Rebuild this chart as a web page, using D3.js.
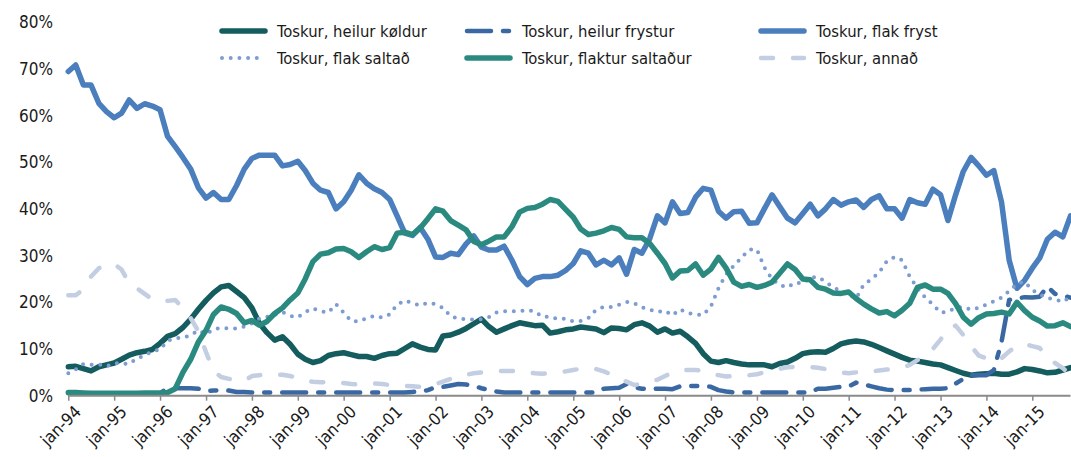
<!DOCTYPE html>
<html><head><meta charset="utf-8">
<script src="https://cdnjs.cloudflare.com/ajax/libs/d3/7.8.5/d3.min.js"></script>
<style>
html,body{margin:0;padding:0;background:#fff;}
svg{display:block;font-family:"DejaVu Sans Condensed","DejaVu Sans",sans-serif;}
</style></head>
<body>
<svg id="chart" width="1071" height="457"></svg>
<script>
// Bimonthly readings starting jan-94 (every 2nd month), values in %
const startYear = 1994, stepMonths = 2;
const tickLabels = ["jan-94","jan-95","jan-96","jan-97","jan-98","jan-99","jan-00","jan-01","jan-02","jan-03","jan-04","jan-05","jan-06","jan-07","jan-08","jan-09","jan-10","jan-11","jan-12","jan-13","jan-14","jan-15"];
const yTicks = [0,10,20,30,40,50,60,70,80];
const seriesNames = ["Toskur, heilur køldur","Toskur, heilur frystur","Toskur, flak fryst","Toskur, flak saltað","Toskur, flaktur saltaður","Toskur, annað"];

const heilurKoldur = [
6.2,6.3,5.8,5.3,6.2,6.6,7.0,7.8,8.7,9.2,
9.5,9.9,11.2,12.7,13.3,14.6,16.4,18.5,20.4,22.0,
23.3,23.6,22.3,21.0,18.8,15.5,13.5,11.9,12.6,11.0,
8.9,7.8,7.1,7.5,8.6,9.0,9.2,8.8,8.4,8.4,
8.0,8.6,9.0,9.1,10.1,11.1,10.4,9.9,9.8,12.8,
13.0,13.6,14.4,15.4,16.4,14.8,13.6,14.3,15.0,15.6,
15.3,15.0,15.1,13.4,13.7,14.1,14.3,14.7,14.5,14.3,
13.5,14.5,14.4,14.1,15.2,15.6,14.9,13.6,14.3,13.4,
13.8,12.6,11.2,9.0,7.4,7.1,7.5,7.1,6.8,6.6,
6.6,6.6,6.2,6.9,7.2,8.0,9.0,9.3,9.4,9.3,
10.1,11.1,11.5,11.7,11.5,11.0,10.3,9.6,8.9,8.2,
7.6,7.4,7.1,6.8,6.6,6.0,5.4,4.8,4.4,4.6,
4.7,4.8,4.6,4.6,5.1,5.8,5.6,5.3,4.9,5.0,
5.5,6.0];

const heilurFrystur = [
0.5,0.5,0.5,0.5,0.5,0.5,0.5,0.5,0.5,0.5,
0.5,0.5,0.5,1.6,1.6,1.6,1.6,1.5,1.0,1.1,
1.2,1.1,0.8,0.8,0.7,0.7,0.7,0.7,0.7,0.7,
0.7,0.7,0.7,0.7,0.7,0.7,0.7,0.7,0.7,0.7,
0.7,0.7,0.7,0.7,0.7,0.8,0.9,1.2,1.8,1.9,
2.2,2.5,2.4,2.1,1.6,1.2,0.9,0.7,0.7,0.7,
0.7,0.7,0.7,0.7,0.7,0.7,0.7,0.7,0.7,0.7,
1.5,1.6,1.7,2.5,1.8,1.5,1.5,1.5,1.5,1.4,
2.0,2.1,2.1,2.1,1.9,1.2,0.9,0.7,0.7,0.7,
0.7,0.7,0.7,0.7,0.7,0.7,0.7,0.7,1.5,1.5,
1.7,1.9,2.0,2.8,2.4,2.0,1.6,1.3,1.2,1.2,
1.2,1.3,1.4,1.5,1.5,1.6,2.6,3.6,4.4,4.4,
4.4,5.5,11.5,20.5,20.8,21.1,21.0,21.2,23.4,21.8,
21.4,21.0];

const flakFryst = [
69.4,70.8,66.5,66.5,62.6,60.8,59.5,60.5,63.3,61.5,
62.5,62.0,61.2,55.5,53.3,51.0,48.5,44.5,42.3,43.5,
42.0,42.0,45.0,48.5,50.8,51.5,51.5,51.5,49.2,49.5,
50.2,48.2,45.5,44.0,43.5,40.0,41.5,44.0,47.3,45.5,
44.3,43.5,42.0,38.5,34.8,34.3,36.0,33.5,29.7,29.6,
30.5,30.2,32.5,34.2,31.8,31.2,31.2,32.0,29.0,25.5,
23.8,25.1,25.5,25.5,25.8,26.8,28.3,31.0,30.5,28.0,
29.0,28.0,29.5,26.0,31.3,30.5,33.6,38.5,37.0,41.5,
39.0,39.2,42.5,44.4,44.0,39.5,38.0,39.4,39.5,36.9,
37.0,40.0,43.0,40.5,38.0,37.0,39.0,41.0,38.5,40.0,
42.0,40.8,41.5,41.9,40.3,42.0,42.8,40.0,40.0,38.0,
42.0,41.3,41.0,44.2,43.0,37.5,43.0,48.0,51.0,49.2,
47.2,48.2,41.5,29.0,23.0,24.7,27.3,29.5,33.5,35.0,
34.0,38.5];

const flakSaltad = [
4.8,5.6,6.8,6.6,6.7,6.3,7.0,6.9,6.8,8.0,
8.6,9.5,9.9,11.8,12.3,12.4,13.0,14.0,13.2,14.2,
14.5,14.4,14.4,14.8,15.5,16.5,16.9,17.3,17.9,17.1,
16.8,17.9,18.7,18.1,17.8,19.6,17.8,16.0,15.9,16.6,
17.1,16.7,17.4,19.5,20.4,19.8,19.3,19.9,19.6,18.8,
17.0,16.5,16.4,16.3,16.4,16.8,17.8,18.1,18.1,18.1,
18.4,18.0,16.9,16.9,16.4,16.5,15.9,16.0,16.6,18.4,
19.0,19.0,19.5,20.1,19.8,18.9,18.4,17.9,18.2,17.2,
18.5,17.7,17.4,17.3,19.1,23.0,26.0,27.8,29.6,31.3,
31.3,27.5,25.0,23.7,23.2,24.2,24.0,25.3,25.4,24.4,
23.2,22.4,21.6,20.8,23.8,24.9,26.4,28.8,29.7,29.0,
25.5,23.0,21.0,19.5,17.8,18.0,18.8,19.0,18.4,18.8,
19.5,20.2,21.0,22.4,24.0,24.4,22.6,21.7,20.9,20.6,
20.1,21.2];

const flakturSaltadur = [
0.7,0.7,0.6,0.5,0.5,0.5,0.5,0.5,0.5,0.5,
0.6,0.6,0.6,0.7,1.5,5.0,7.8,11.5,14.0,17.4,
19.0,18.5,17.6,15.6,16.1,15.1,15.9,17.6,18.8,20.5,
22.0,25.0,28.7,30.3,30.6,31.4,31.5,30.8,29.6,30.8,
31.9,31.3,31.7,34.8,35.0,34.5,35.9,37.9,40.0,39.5,
37.5,36.5,35.5,33.0,32.3,33.1,34.0,34.0,36.2,39.3,
40.1,40.3,41.0,42.0,41.6,39.9,38.2,35.7,34.5,34.8,
35.3,36.0,35.6,34.0,33.8,33.8,32.6,30.5,28.3,25.2,
26.7,26.8,28.2,25.8,27.1,29.6,27.3,24.3,23.4,23.8,
23.2,23.6,24.3,26.2,28.2,27.0,25.0,24.8,23.2,22.8,
22.0,21.9,22.2,20.8,19.6,18.6,17.7,18.0,17.1,18.3,
19.8,23.2,23.7,22.8,22.8,21.9,19.7,16.8,15.3,16.7,
17.5,17.6,17.9,17.5,20.0,18.2,16.8,16.0,14.9,15.0,
15.6,14.8];

const annad = [
21.5,21.5,22.8,25.5,27.3,28.0,28.2,27.0,24.0,23.0,
21.8,20.6,20.5,20.3,20.5,18.7,16.6,13.8,9.3,5.3,
4.0,3.6,3.3,3.2,4.2,4.4,4.5,4.4,4.5,4.2,
3.8,3.2,3.0,2.9,2.9,2.8,2.7,2.5,2.4,2.5,
2.6,2.5,2.3,2.2,2.1,2.0,1.9,2.2,2.5,3.0,
3.6,4.3,4.5,4.8,5.0,5.2,5.3,5.3,5.3,5.2,
5.0,4.8,4.7,4.9,5.0,5.2,5.5,5.8,5.9,5.7,
5.2,4.5,3.6,3.0,2.3,2.5,3.0,3.4,4.2,5.0,
5.5,5.5,5.5,5.3,4.7,4.4,4.1,4.2,4.3,4.4,
4.6,5.0,5.5,5.8,6.1,6.2,6.2,6.1,6.0,5.7,
5.3,5.0,4.8,5.0,5.3,5.2,5.4,5.6,5.8,6.0,
6.6,7.6,9.0,10.0,12.0,14.5,15.0,13.0,10.6,8.6,
8.0,7.3,8.0,9.5,10.7,11.1,10.6,10.2,8.2,7.0,
5.9,4.4];

const seriesValues = [heilurKoldur, heilurFrystur, flakFryst, flakSaltad, flakturSaltadur, annad];
const seriesStyle = [
  {color:"#145c5d", width:5.5, dash:null},
  {color:"#3a68a3", width:4.5, dash:"24,12,6,12"},
  {color:"#4a7ebd", width:5.5, dash:null},
  {color:"#7d9dd0", width:4, dash:"0,8.7"},
  {color:"#2b8a80", width:5.5, dash:null},
  {color:"#c3cee3", width:4.5, dash:"12,20"}
];

const categories = heilurKoldur.map((_, i) => new Date(startYear, i * stepMonths, 1));

const svg = d3.select("#chart");
const x = d3.scaleTime().domain([new Date(1994,0,1), new Date(2015,10,1)]).range([68.3, 1070.5]);
const y = d3.scaleLinear().domain([0, 80]).range([395.7, 22]);

// y labels
svg.append("g").selectAll("text").data(yTicks).join("text")
  .attr("x", 53).attr("y", d => y(d)).attr("dy", "0.36em")
  .attr("text-anchor", "end").attr("font-size", 17).attr("fill", "#1a1a1a")
  .text(d => d + "%");

// lines
const line = d3.line().x((d, i) => x(categories[i])).y(d => y(d)).curve(d3.curveLinear);
seriesValues.forEach((vals, k) => {
  const s = seriesStyle[k];
  svg.append("path").datum(vals)
    .attr("d", line).attr("fill", "none")
    .attr("stroke", s.color).attr("stroke-width", s.width)
    .attr("stroke-linecap", "round").attr("stroke-linejoin", "round")
    .attr("stroke-dasharray", s.dash);
});

// x axis
const tickDates = tickLabels.map((t, i) => new Date(startYear + i, 0, 1));
const xAxis = d3.axisBottom(x).tickValues(tickDates).tickSize(5).tickFormat((d, i) => tickLabels[i]);
const gx = svg.append("g").attr("transform", "translate(0,395.7)").call(xAxis);
gx.select(".domain").attr("stroke", "#8a8a8a").attr("stroke-width", 2).attr("d", "M68.3,0H1070.5");
gx.selectAll(".tick line").attr("stroke", "#8a8a8a").attr("stroke-width", 1.5);
gx.selectAll(".tick text")
  .attr("font-size", 17).attr("fill", "#1a1a1a").attr("font-family", "DejaVu Sans Condensed")
  .attr("text-anchor", "end").attr("y", 0).attr("dy", "0.35em")
  .attr("transform", "translate(9,13) rotate(-45)");

// legend
const legendPos = [[220,31],[465,31],[759,31],[220,58],[465,58],[759,58]];
const legendOrder = [0,1,2,3,4,5];
legendOrder.forEach((k, j) => {
  const [lx, ly] = legendPos[j];
  const s = seriesStyle[k];
  const g = svg.append("g");
  g.append("line").attr("x1", lx + 2).attr("x2", lx + 45).attr("y1", ly).attr("y2", ly)
    .attr("stroke", s.color).attr("stroke-width", s.width)
    .attr("stroke-linecap", "round").attr("stroke-dasharray", s.dash);
  g.append("text").attr("x", lx + 57).attr("y", ly).attr("dy", "0.36em")
    .attr("font-size", 16.5).attr("fill", "#1a1a1a").text(seriesNames[k]);
});
</script>
</body></html>
